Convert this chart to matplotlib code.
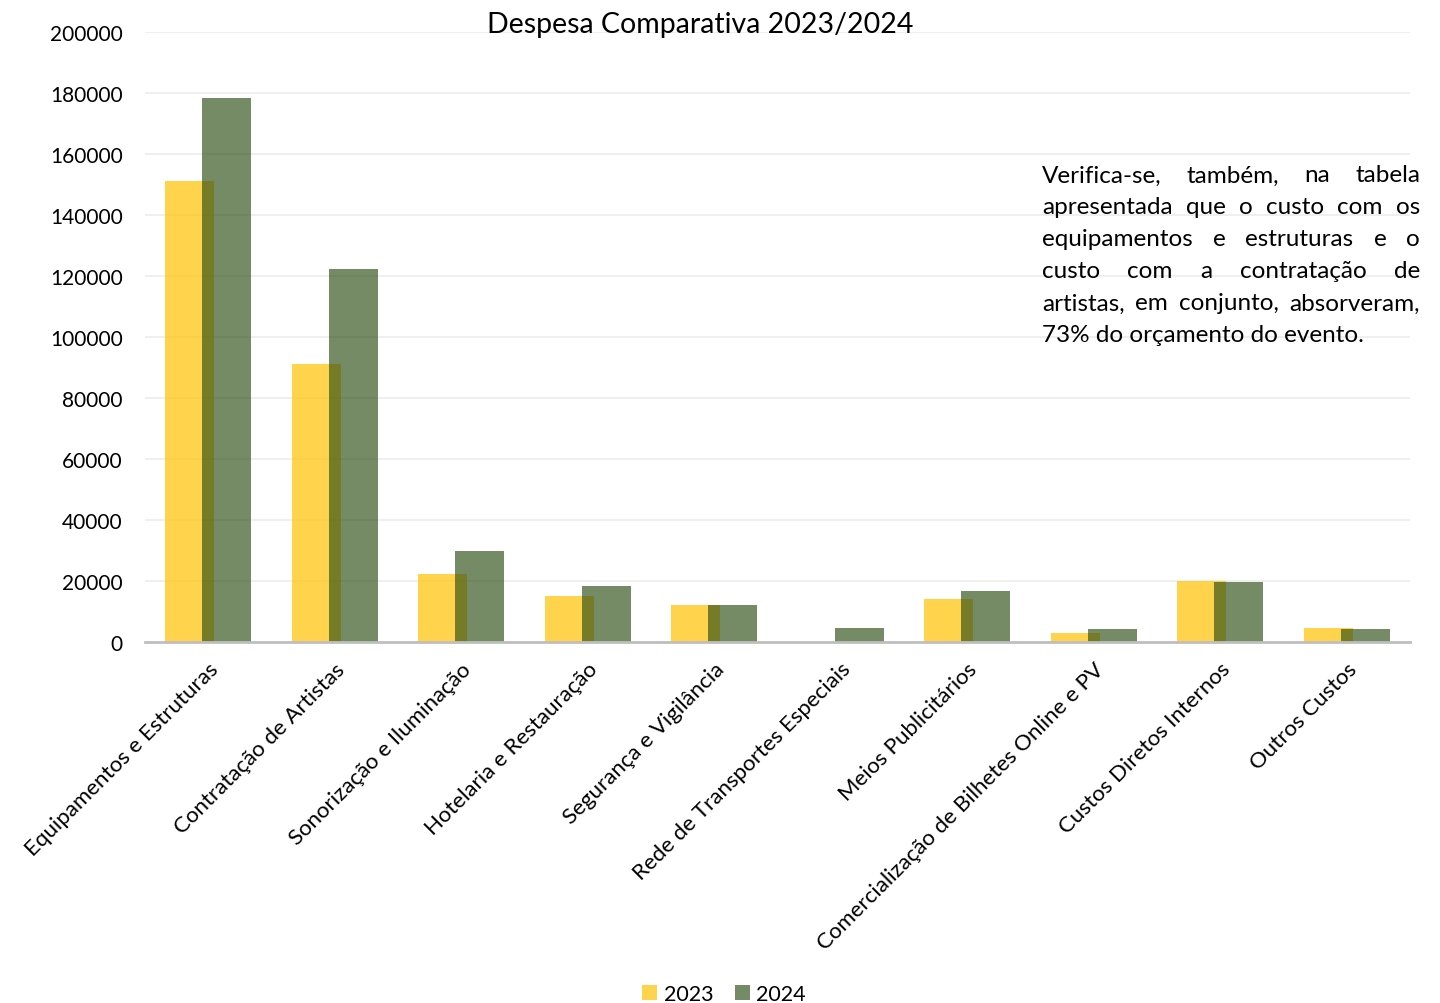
import numpy as np
import matplotlib.pyplot as plt

plt.rcParams['font.family'] = ['Lato', 'DejaVu Sans']

categorias = ["Equipamentos e Estruturas", "Contratação de Artistas", "Sonorização e Iluminação",
              "Hotelaria e Restauração", "Segurança e Vigilância", "Rede de Transportes Especiais",
              "Meios Publicitários", "Comercialização de Bilhetes Online e PV",
              "Custos Diretos Internos", "Outros Custos"]
despesa_2023 = [151000, 91000, 22300, 15200, 12100, 0, 14200, 3000, 20000, 4700]
despesa_2024 = [178400, 122200, 29900, 18400, 12100, 4600, 16800, 4300, 19800, 4400]
y_ticks = [0, 20000, 40000, 60000, 80000, 100000, 120000, 140000, 160000, 180000, 200000]

nota = ["Verifica-se, também, na tabela",
        "apresentada que o custo com os",
        "equipamentos e estruturas e o",
        "custo com a contratação de",
        "artistas, em conjunto, absorveram,",
        "73% do orçamento do evento."]

W, H = 1440, 1004
fig = plt.figure(figsize=(W / 100, H / 100), dpi=100)
fig.subplots_adjust(left=145 / W, right=1410 / W, top=1 - 33 / H, bottom=1 - 643 / H)
ax = fig.add_subplot(111)

x = np.arange(len(categorias))
largura = 0.39
ax.bar(x - 0.146, despesa_2023, largura, color='#ffc91f', alpha=0.8, label='2023', zorder=2)
ax.bar(x + 0.146, despesa_2024, largura, color='#2b4d14', alpha=0.65, label='2024', zorder=3)

ax.set_xlim(-0.5, len(categorias) - 0.5)
ax.set_ylim(0, 200000)
ax.set_yticks(y_ticks)
ax.set_yticklabels([str(v) for v in y_ticks], fontsize=15, color='#000000')
ax.set_xticks(x)
ax.set_xticklabels(categorias, rotation=45, ha='right', rotation_mode='anchor', fontsize=16)
ax.tick_params(axis='both', length=0)
ax.tick_params(axis='y', pad=16)
ax.tick_params(axis='x', pad=12)
ax.grid(axis='y', color='#ececec', linewidth=1.2, zorder=0)
for s in ['top', 'right', 'left']:
    ax.spines[s].set_visible(False)
ax.spines['bottom'].set_color('#bfbfbf')
ax.spines['bottom'].set_linewidth(2)
ax.spines['bottom'].set_zorder(4)

fig.text(700 / W, 1 - 25 / H, "Despesa Comparativa 2023/2024", fontsize=20.5, ha='center', va='center')

# texto justificado
r = fig.canvas.get_renderer()
x0, x1, y0, dy = 1042, 1420, 176, 32
for i, linha in enumerate(nota):
    y = 1 - (y0 + i * dy) / H
    if i == len(nota) - 1:
        fig.text(x0 / W, y, linha, fontsize=17.5, va='center')
        continue
    palavras = linha.split()
    ts = [fig.text(0, y, p, fontsize=17.5, va='center') for p in palavras]
    larg = [t.get_window_extent(r).width for t in ts]
    gap = ((x1 - x0) - sum(larg)) / (len(palavras) - 1)
    xp = x0
    for t, w in zip(ts, larg):
        t.set_x(xp / W)
        xp += w + gap

fig.legend(loc='center', bbox_to_anchor=(724 / W, 1 - 995 / H), ncol=2, frameon=False,
           fontsize=15.5, handlelength=0.7, handleheight=0.7, handletextpad=0.3, columnspacing=1.0)

fig.savefig('out.png', dpi=100)
